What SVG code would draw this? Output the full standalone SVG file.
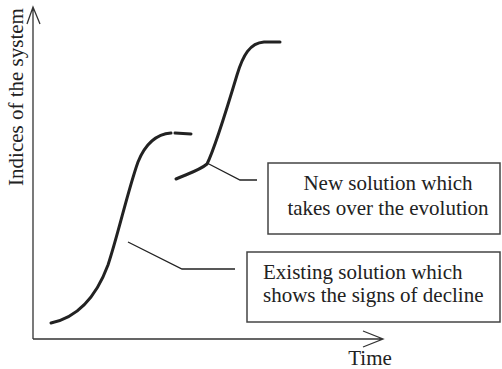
<svg xmlns="http://www.w3.org/2000/svg" width="502" height="369" viewBox="0 0 502 369">
<style>
.axis{fill:none;stroke:#333;stroke-width:1.3}
.curve{fill:none;stroke:#222;stroke-width:3;stroke-linecap:round}
.lead{fill:none;stroke:#222;stroke-width:1.3}
.box{fill:#fff;stroke:#444;stroke-width:1.5}
text{font-family:"Liberation Serif","Times New Roman",serif;font-size:21px;fill:#222}
</style>
<rect width="502" height="369" fill="#fff"/>
<g id="axes">
<path class="axis" d="M33,339 V8 M27,24 L33,7 L40,24"/>
<path class="axis" d="M33,339 H383 M363,331 L383,339 L363,347"/>
<text x="370" y="365" text-anchor="middle">Time</text>
<text transform="translate(23,97) rotate(-90)" text-anchor="middle">Indices of the system</text>
</g>
<g id="curve-existing">
<path class="curve" d="M51,323 C75,318 95,300 108,265 C118,235 128,190 138,162 C146,142 158,134 171,133"/>
<path class="curve" d="M175,133 L191,134"/>
</g>
<g id="curve-new">
<path class="curve" d="M176,179 C190,173 200,170 207,164 C214,150 225,115 237,75 C243,55 250,43 264,42 L280,42"/>
</g>
<g id="connectors">
<path class="lead" d="M207,163 L240,180 H257"/>
<path class="lead" d="M128,242 L182,269 H235"/>
</g>
<g id="box-new">
<rect class="box" x="268" y="163" width="232" height="71"/>
<text x="388" y="190" text-anchor="middle">New solution which</text>
<text x="388" y="215" text-anchor="middle">takes over the evolution</text>
</g>
<g id="box-existing">
<rect class="box" x="247" y="252" width="253" height="70"/>
<text x="263" y="279">Existing solution which</text>
<text x="263" y="302">shows the signs of decline</text>
</g>
</svg>
